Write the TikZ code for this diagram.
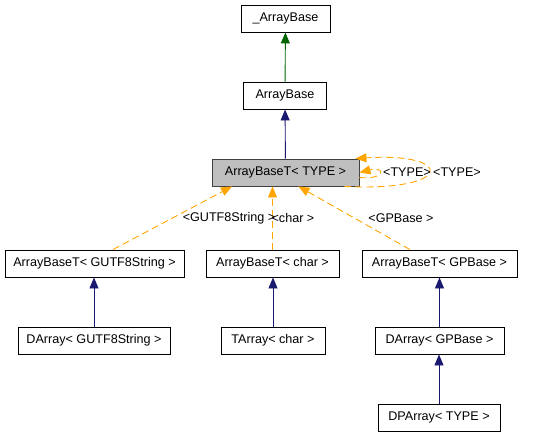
\documentclass[tikz,border=0pt]{standalone}
\usepackage{fontspec}
\setmainfont{Liberation Sans}
\usepackage{xcolor}
\usetikzlibrary{positioning,arrows.meta,calc}

\definecolor{inhblue}{RGB}{25,25,112}
\definecolor{inhgreen}{RGB}{0,100,0}
\definecolor{tmplorange}{RGB}{255,165,0}

\begin{document}
\begin{tikzpicture}[
  x=1pt, y=-1pt,
  font=\fontsize{12.6}{15}\selectfont,
  cls/.style={draw, line width=0.9pt, fill=white, inner xsep=2pt, inner ysep=0pt, minimum height=27pt},
  cur/.style={cls, fill=black!25, draw=black!75},
  inh/.style={draw=inhblue, line width=0.9pt, -{Triangle[length=11pt,width=9pt]}},
  dep/.style={draw=tmplorange, line width=0.9pt, dash pattern=on 7pt off 4pt, -{Triangle[length=11pt,width=9pt]}},
  lbl/.style={inner sep=0pt}]
\useasboundingbox (0,0) rectangle (547,437);
% classes
\node[cls, minimum width=89pt] (abase0) at (285.5,18.5) {\_ArrayBase};
\node[cls, minimum width=83pt] (abase) at (285,95.5) {ArrayBase};
\node[cur, minimum width=147pt] (abt) at (285.5,172.5) {ArrayBaseT< TYPE >};
\node[cls, minimum width=179pt] (abtstr) at (94.5,263.5) {ArrayBaseT< GUTF8String >};
\node[cls, minimum width=133pt] (abtchar) at (272.5,263.5) {ArrayBaseT< char >};
\node[cls, minimum width=155pt] (abtgp) at (439.5,263.5) {ArrayBaseT< GPBase >};
\node[cls, minimum width=152pt] (darrstr) at (94,340.5) {DArray< GUTF8String >};
\node[cls, minimum width=104pt] (tarrchar) at (273,340.5) {TArray< char >};
\node[cls, minimum width=129pt] (darrgp) at (439.5,340.5) {DArray< GPBase >};
\node[cls, minimum width=122pt] (dparr) at (439,417.5) {DPArray< TYPE >};
% inheritance
\draw[inh, draw=inhgreen] (abase) -- (abase0);
\draw[inh] (abt) -- (abase);
\draw[inh] (darrstr) -- (darrstr |- abtstr.south);
\draw[inh] (tarrchar) -- (tarrchar |- abtchar.south);
\draw[inh] (darrgp) -- (darrgp |- abtgp.south);
\draw[inh] (dparr) -- (dparr |- darrgp.south);
% template instances
\draw[dep] ([xshift=18.5pt]abtstr.north) -- ([xshift=-53.5pt]abt.south);
\draw[dep] (abtchar.north) -- (abtchar.north |- abt.south);
\draw[dep] ([xshift=-29.5pt]abtgp.north) -- ([xshift=13pt]abt.south);
\draw[dep] ([xshift=-15pt]abt.south east) .. controls (455,192) and (455,152) .. ([xshift=-4pt]abt.north east);
\draw[dep] ([yshift=-5pt]abt.east) .. controls (386,180) and (386,166) .. (abt.east);
% labels
\node[lbl] (lstr) at (229,218) {<GUTF8String >};
\node[lbl] (lchar) at (293,218) {<char >};
\node[lbl] (lgp) at (401,218) {<GPBase >};
\node[lbl] (ltype1) at (407,172) {<TYPE>};
\node[lbl] (ltype2) at (457,172) {<TYPE>};
\end{tikzpicture}
\end{document}
